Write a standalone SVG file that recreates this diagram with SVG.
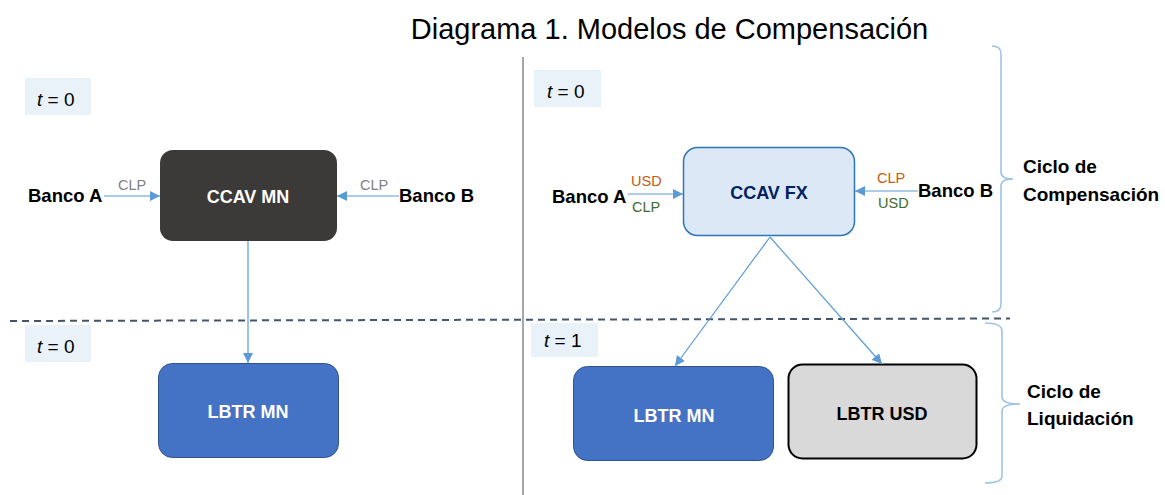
<svg xmlns="http://www.w3.org/2000/svg" width="1165" height="495" viewBox="0 0 1165 495">
<defs>
<marker id="ah" markerUnits="userSpaceOnUse" markerWidth="10" markerHeight="10" refX="10" refY="5" orient="auto" viewBox="0 0 10 10">
<path d="M0,0 L10,5 L0,10 z" fill="#5b9bd5"/>
</marker>
<style>
text{font-family:"Liberation Sans",Arial,sans-serif}
.bank{font-size:18.5px;font-weight:bold;fill:#000}
.node{font-size:18px;font-weight:bold;text-anchor:middle}
.cur{font-size:14.5px}
.tl{font-size:19px;fill:#000}
.tbox{fill:#e9f1f9}
.conn{stroke:#5b9bd5;stroke-width:1.2;fill:none;marker-end:url(#ah)}
.brace{stroke:#9dc3e6;stroke-width:1.6;fill:none}
.cyc{font-size:19px;font-weight:bold;fill:#000}
</style>
</defs>
<rect width="1165" height="495" fill="#fff"/>
<text x="669.5" y="39" font-size="29" text-anchor="middle" fill="#000">Diagrama 1. Modelos de Compensación</text>
<line x1="523" y1="57" x2="523" y2="495" stroke="#a6a6a6" stroke-width="2"/>
<line x1="10" y1="321" x2="1010" y2="318.5" stroke="#44546a" stroke-width="2" stroke-dasharray="7,5"/>

<g id="t0-left-top"><rect class="tbox" x="25" y="78" width="66" height="37"/><text class="tl" x="37" y="106"><tspan font-style="italic">t</tspan> = 0</text></g>
<g id="t0-left-bottom"><rect class="tbox" x="25" y="325" width="66" height="37"/><text class="tl" x="37" y="353"><tspan font-style="italic">t</tspan> = 0</text></g>
<g id="t0-right-top"><rect class="tbox" x="534" y="70" width="67" height="37"/><text class="tl" x="547" y="98"><tspan font-style="italic">t</tspan> = 0</text></g>
<g id="t1-right"><rect class="tbox" x="531" y="323" width="67" height="34"/><text class="tl" x="544" y="347"><tspan font-style="italic">t</tspan> = 1</text></g>

<g id="bancoA-mn"><text class="bank" x="28" y="202">Banco A</text></g>
<g id="bancoB-mn"><text class="bank" x="399" y="202">Banco B</text></g>
<g id="ccav-mn"><rect x="160" y="150" width="177" height="91" rx="13" fill="#3b3a38"/><text class="node" x="248" y="203" fill="#fff">CCAV MN</text></g>
<g id="lbtr-mn-left"><rect x="158.5" y="363.5" width="180" height="94" rx="14" fill="#4472c4" stroke="#2f528f" stroke-width="1"/><text class="node" x="248" y="418" fill="#fff">LBTR MN</text></g>

<g id="bancoA-fx"><text class="bank" x="552" y="203">Banco A</text></g>
<g id="bancoB-fx"><text class="bank" x="918" y="197">Banco B</text></g>
<g id="ccav-fx"><rect x="683.5" y="147.5" width="171" height="88" rx="14" fill="#dce8f5" stroke="#2e75b6" stroke-width="1.5"/><text class="node" x="769" y="199" fill="#002060">CCAV FX</text></g>
<g id="lbtr-mn-right"><rect x="573.5" y="366.5" width="200" height="94" rx="14" fill="#4472c4" stroke="#2f528f" stroke-width="1"/><text class="node" x="674" y="422" fill="#fff">LBTR MN</text></g>
<g id="lbtr-usd"><rect x="788.5" y="364.5" width="188" height="94" rx="14" fill="#d9d9d9" stroke="#000" stroke-width="2"/><text class="node" x="882" y="420" fill="#000">LBTR USD</text></g>

<g id="connectors">
<line class="conn" x1="104" y1="196" x2="160" y2="196"/>
<line class="conn" x1="399" y1="196" x2="337" y2="196"/>
<line class="conn" x1="248" y1="241" x2="248" y2="363"/>
<line class="conn" x1="628" y1="194" x2="683" y2="194"/>
<line class="conn" x1="918" y1="191" x2="855" y2="191"/>
<line class="conn" x1="770" y1="237" x2="675" y2="366"/>
<line class="conn" x1="770" y1="237" x2="882" y2="364"/>
</g>
<g id="labels">
<text class="cur" x="118" y="190" fill="#7f7f7f">CLP</text>
<text class="cur" x="360" y="190" fill="#7f7f7f">CLP</text>
<text class="cur" x="631" y="186" fill="#c55a11">USD</text>
<text class="cur" x="632" y="212" fill="#3e6b2a">CLP</text>
<text class="cur" x="877" y="183" fill="#c55a11">CLP</text>
<text class="cur" x="878" y="208" fill="#3e6b2a">USD</text>
</g>

<g id="brace-compensacion">
<path class="brace" d="M992 46 Q1001 46 1001 54 L1001 172 Q1001 179 1013 179 Q1001 179 1001 186 L1001 304 Q1001 312 992 312"/>
<text class="cyc" x="1023" y="173">Ciclo de</text>
<text class="cyc" x="1023" y="201">Compensación</text>
</g>
<g id="brace-liquidacion">
<path class="brace" d="M985 323 Q1002 323 1002 331 L1002 397 Q1002 404 1020 404 Q1002 404 1002 411 L1002 476 Q1002 483 985 483"/>
<text class="cyc" x="1027" y="398">Ciclo de</text>
<text class="cyc" x="1027" y="425">Liquidación</text>
</g>
</svg>
